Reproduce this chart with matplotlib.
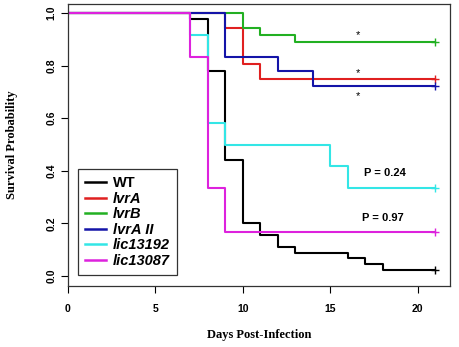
import matplotlib
matplotlib.use("Agg")
import matplotlib.pyplot as plt
from matplotlib.lines import Line2D

# Kaplan-Meier step data (days, survival)
wt_t = [0, 7, 8, 9, 10, 11, 12, 13, 16, 17, 18, 21]
wt_s = [1.0, 0.978, 0.78, 0.44, 0.20, 0.155, 0.11, 0.089, 0.067, 0.044, 0.022, 0.022]
lvrA_t = [0, 9, 10, 11, 21]
lvrA_s = [1.0, 0.944, 0.806, 0.75, 0.75]
lvrB_t = [0, 10, 11, 13, 21]
lvrB_s = [1.0, 0.944, 0.917, 0.889, 0.889]
lvrA2_t = [0, 9, 12, 14, 21]
lvrA2_s = [1.0, 0.833, 0.778, 0.722, 0.722]
lic13192_t = [0, 7, 8, 9, 15, 16, 21]
lic13192_s = [1.0, 0.917, 0.583, 0.5, 0.417, 0.333, 0.333]
lic13087_t = [0, 7, 8, 9, 21]
lic13087_s = [1.0, 0.833, 0.333, 0.167, 0.167]

names = ["WT", "lvrA", "lvrB", "lvrA II", "lic13192", "lic13087"]
colors = ["#000000", "#E02020", "#22B022", "#1414A8", "#33E6E6", "#DD22DD"]
series = [(wt_t, wt_s), (lvrA_t, lvrA_s), (lvrB_t, lvrB_s),
          (lvrA2_t, lvrA2_s), (lic13192_t, lic13192_s), (lic13087_t, lic13087_s)]

x_ticks = [0, 5, 10, 15, 20]
y_ticks = [0.0, 0.2, 0.4, 0.6, 0.8, 1.0]

stars = [(16.6, 0.915), (16.6, 0.77), (16.6, 0.683)]
pvals = [("P = 0.24", 18.1, 0.39), ("P = 0.97", 18.0, 0.22)]

fig = plt.figure(figsize=(4.59, 3.47), dpi=100)
ax = fig.add_axes([0.148, 0.176, 0.832, 0.812])

for (t, s), c in zip(series, colors):
    ax.step(t, s, where="post", color=c, lw=1.5)
    ax.plot([t[-1]], [s[-1]], marker="+", color=c, ms=6, mew=1.0)

for x, y in stars:
    ax.text(x, y, "*", ha="center", va="center", fontsize=8, color="black",
            family="Liberation Sans")
for txt, x, y in pvals:
    ax.text(x, y, txt, ha="center", va="center", fontsize=8, fontweight="bold",
            family="Liberation Sans")

ax.set_xlim(0, 21.83)
ax.set_ylim(-0.038, 1.034)
ax.set_xticks(x_ticks)
ax.set_xticklabels([str(v) for v in x_ticks], fontsize=7.5, fontweight="bold",
                   family="Liberation Sans")
ax.set_yticks(y_ticks)
ax.set_yticklabels(["%.1f" % v for v in y_ticks], fontsize=7.5, fontweight="bold",
                   family="Liberation Sans", rotation=90, va="center")
ax.tick_params(axis="x", length=5, width=0.8, pad=8)
ax.tick_params(axis="y", length=5, width=0.8, pad=3)
for sp in ax.spines.values():
    sp.set_linewidth(0.9)
    sp.set_color("#333333")

ax.set_xlabel("Days Post-Infection", fontsize=9, fontweight="bold",
              family="Liberation Serif", labelpad=11)
ax.set_ylabel("Survival Probability", fontsize=9, fontweight="bold",
              family="Liberation Serif", labelpad=21)

handles = [Line2D([0], [0], color=c, lw=1.8) for c in colors]
leg = ax.legend(handles, names, loc="lower left", bbox_to_anchor=(0.026, 0.039),
                borderaxespad=0, fancybox=False, edgecolor="#333333",
                handlelength=1.4, handletextpad=0.5, labelspacing=0.1,
                borderpad=0.5, framealpha=1,
                prop={"family": "Liberation Sans", "weight": "bold", "size": 10.5})
leg.get_frame().set_linewidth(0.9)
for i, txt in enumerate(leg.get_texts()):
    if i > 0:
        txt.set_fontstyle("italic")
fig.canvas.draw()
bb = leg.get_frame().get_bbox()
leg.get_frame().set_width(bb.width + 8)

fig.savefig("out.png", dpi=100)
